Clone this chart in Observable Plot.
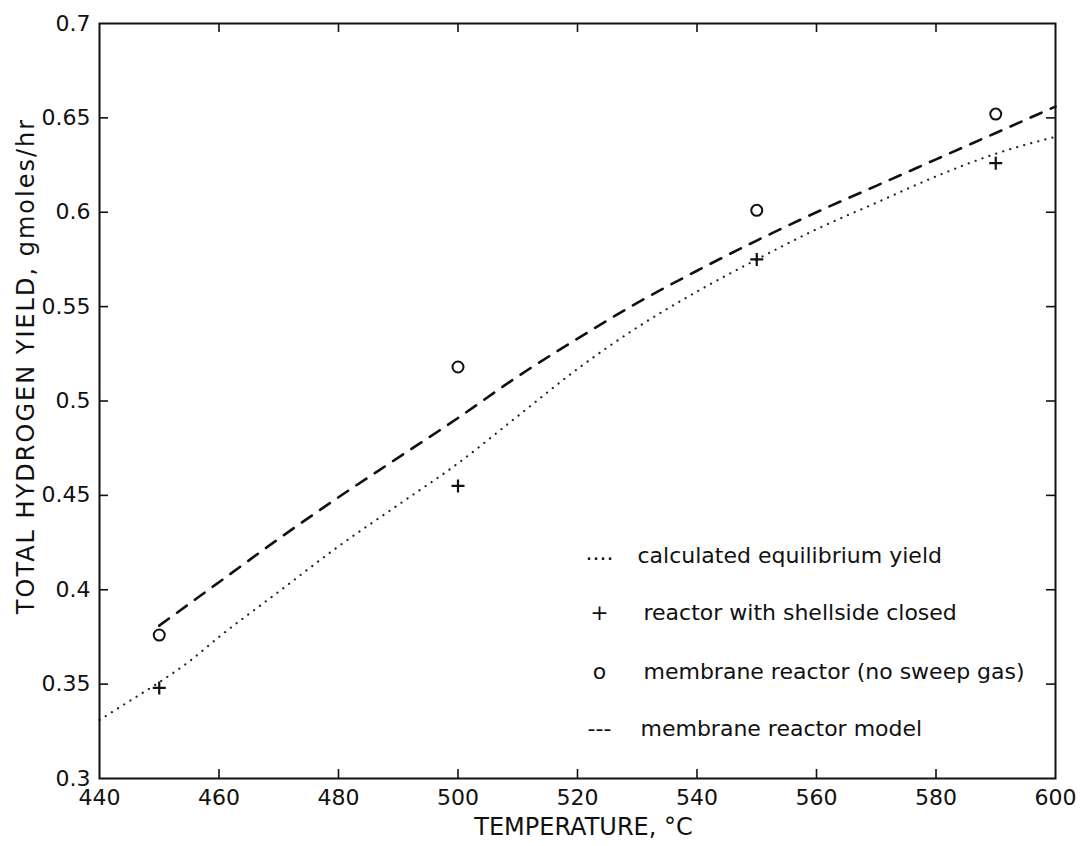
<!DOCTYPE html>
<html><head><meta charset="utf-8">
<script src="https://cdn.jsdelivr.net/npm/d3@7"></script>
<script src="https://cdn.jsdelivr.net/npm/@observablehq/plot@0.6"></script>
<style>body{margin:0;background:#fff}#chart{width:1083px;height:846px}</style>
</head><body><div id="chart"></div>
<script>
// calculated equilibrium yield (dotted)
const eqT = [440, 445, 450, 455, 460, 470, 480, 490, 500, 510, 520, 530, 540, 550, 560, 570, 580, 590, 600];
const eqY = [0.331, 0.341, 0.351, 0.362, 0.375, 0.399, 0.423, 0.445, 0.467, 0.492, 0.517, 0.539, 0.558, 0.575, 0.591, 0.605, 0.619, 0.631, 0.640];
// membrane reactor model (dashed)
const modelT = [450, 460, 470, 480, 490, 500, 510, 520, 530, 540, 550, 560, 570, 580, 590, 600];
const modelY = [0.381, 0.404, 0.427, 0.449, 0.470, 0.491, 0.513, 0.533, 0.552, 0.569, 0.585, 0.600, 0.614, 0.628, 0.642, 0.656];
// reactor with shellside closed (+)
const closedT = [450, 500, 550, 590];
const closedY = [0.348, 0.455, 0.575, 0.626];
// membrane reactor, no sweep gas (o)
const membT = [450, 500, 550, 590];
const membY = [0.376, 0.518, 0.601, 0.652];
// ticks
const xTicks = [440, 460, 480, 500, 520, 540, 560, 580, 600];
const yTicks = [0.3, 0.35, 0.4, 0.45, 0.5, 0.55, 0.6, 0.65, 0.7];
const xInner = [460, 480, 500, 520, 540, 560, 580];
const yInner = [0.35, 0.4, 0.45, 0.5, 0.55, 0.6, 0.65];
// legend
const legendSymbols = ["....", "+", "o", "---"];
const legendLabels = ["calculated equilibrium yield", "reactor with shellside closed", "membrane reactor (no sweep gas)", "membrane reactor model"];
const xTitle = "TEMPERATURE, °C";
const yTitle = "TOTAL HYDROGEN YIELD, gmoles/hr";

const eq = eqT.map((t, i) => ({t, y: eqY[i]}));
const model = modelT.map((t, i) => ({t, y: modelY[i]}));
const closed = closedT.map((t, i) => ({t, y: closedY[i]}));
const memb = membT.map((t, i) => ({t, y: membY[i]}));

const W = 1083, H = 846, ML = 99, MR = 28, MT = 23, MB = 68;
const PW = W - ML - MR, PH = H - MT - MB, TK = 9;

const plusSymbol = {draw(ctx, size) { const r = Math.sqrt(size / Math.PI); ctx.moveTo(-r, 0); ctx.lineTo(r, 0); ctx.moveTo(0, -r); ctx.lineTo(0, r); }};

const legendRowDy = [532, 589, 648, 705];
const legendTextDx = [538, 544, 544, 541];

const marks = [
  Plot.line(eq, {x: "t", y: "y", stroke: "#222", strokeWidth: 2.2, strokeDasharray: "0.1 7.2", strokeLinecap: "round", curve: "monotone-x"}),
  Plot.line(model, {x: "t", y: "y", stroke: "#111", strokeWidth: 2.6, strokeDasharray: "12 10", curve: "monotone-x"}),
  Plot.dot(memb, {x: "t", y: "y", r: 5.5, stroke: "#111", strokeWidth: 2, fill: "none"}),
  Plot.dot(closed, {x: "t", y: "y", r: 6.5, symbol: plusSymbol, stroke: "#111", strokeWidth: 2.2, fill: "none"}),
  Plot.tickX(xInner, {x: d => d, insetTop: PH - TK, stroke: "#111", strokeWidth: 1.6}),
  Plot.tickX(xInner, {x: d => d, insetBottom: PH - TK, stroke: "#111", strokeWidth: 1.6}),
  Plot.tickY(yInner, {y: d => d, insetRight: PW - TK, stroke: "#111", strokeWidth: 1.6}),
  Plot.tickY(yInner, {y: d => d, insetLeft: PW - TK, stroke: "#111", strokeWidth: 1.6}),
  Plot.frame({stroke: "#111", strokeWidth: 2}),
  Plot.axisX({ticks: xTicks, tickSize: 0, tickPadding: 11, tickFormat: d => String(d), fontSize: 22, fill: "#111"}),
  Plot.axisY({ticks: yTicks, tickSize: 0, tickPadding: 9, tickFormat: d => String(+d.toFixed(2)), fontSize: 22, fill: "#111"}),
  Plot.text([xTitle], {frameAnchor: "bottom", dx: 6, dy: 49, fontSize: 24, fill: "#111", textAnchor: "middle", lineAnchor: "middle"}),
  Plot.text([yTitle], {frameAnchor: "left", rotate: -90, dx: -73, dy: -35, fontSize: 24, fill: "#111", textAnchor: "middle", lineAnchor: "middle"})
];
legendSymbols.forEach((s, i) => {
  marks.push(Plot.text([s], {frameAnchor: "top-left", dx: 500, dy: legendRowDy[i] + (i === 0 ? -3 : 0), textAnchor: "middle", lineAnchor: "middle", fontSize: 22, fill: "#111"}));
  marks.push(Plot.text([legendLabels[i]], {frameAnchor: "top-left", dx: legendTextDx[i], dy: legendRowDy[i], textAnchor: "start", lineAnchor: "middle", fontSize: 22, fill: "#111"}));
});

const chart = Plot.plot({
  width: W, height: H,
  marginLeft: ML, marginRight: MR, marginTop: MT, marginBottom: MB,
  style: {fontFamily: "DejaVu Sans", background: "#fff", color: "#111"},
  x: {domain: [440, 600], label: null},
  y: {domain: [0.3, 0.7], label: null},
  marks
});
d3.select(chart).selectAll("text").filter(function() { return this.textContent === yTitle; }).style("letter-spacing", "2px");
document.getElementById("chart").append(chart);
</script>
</body></html>
